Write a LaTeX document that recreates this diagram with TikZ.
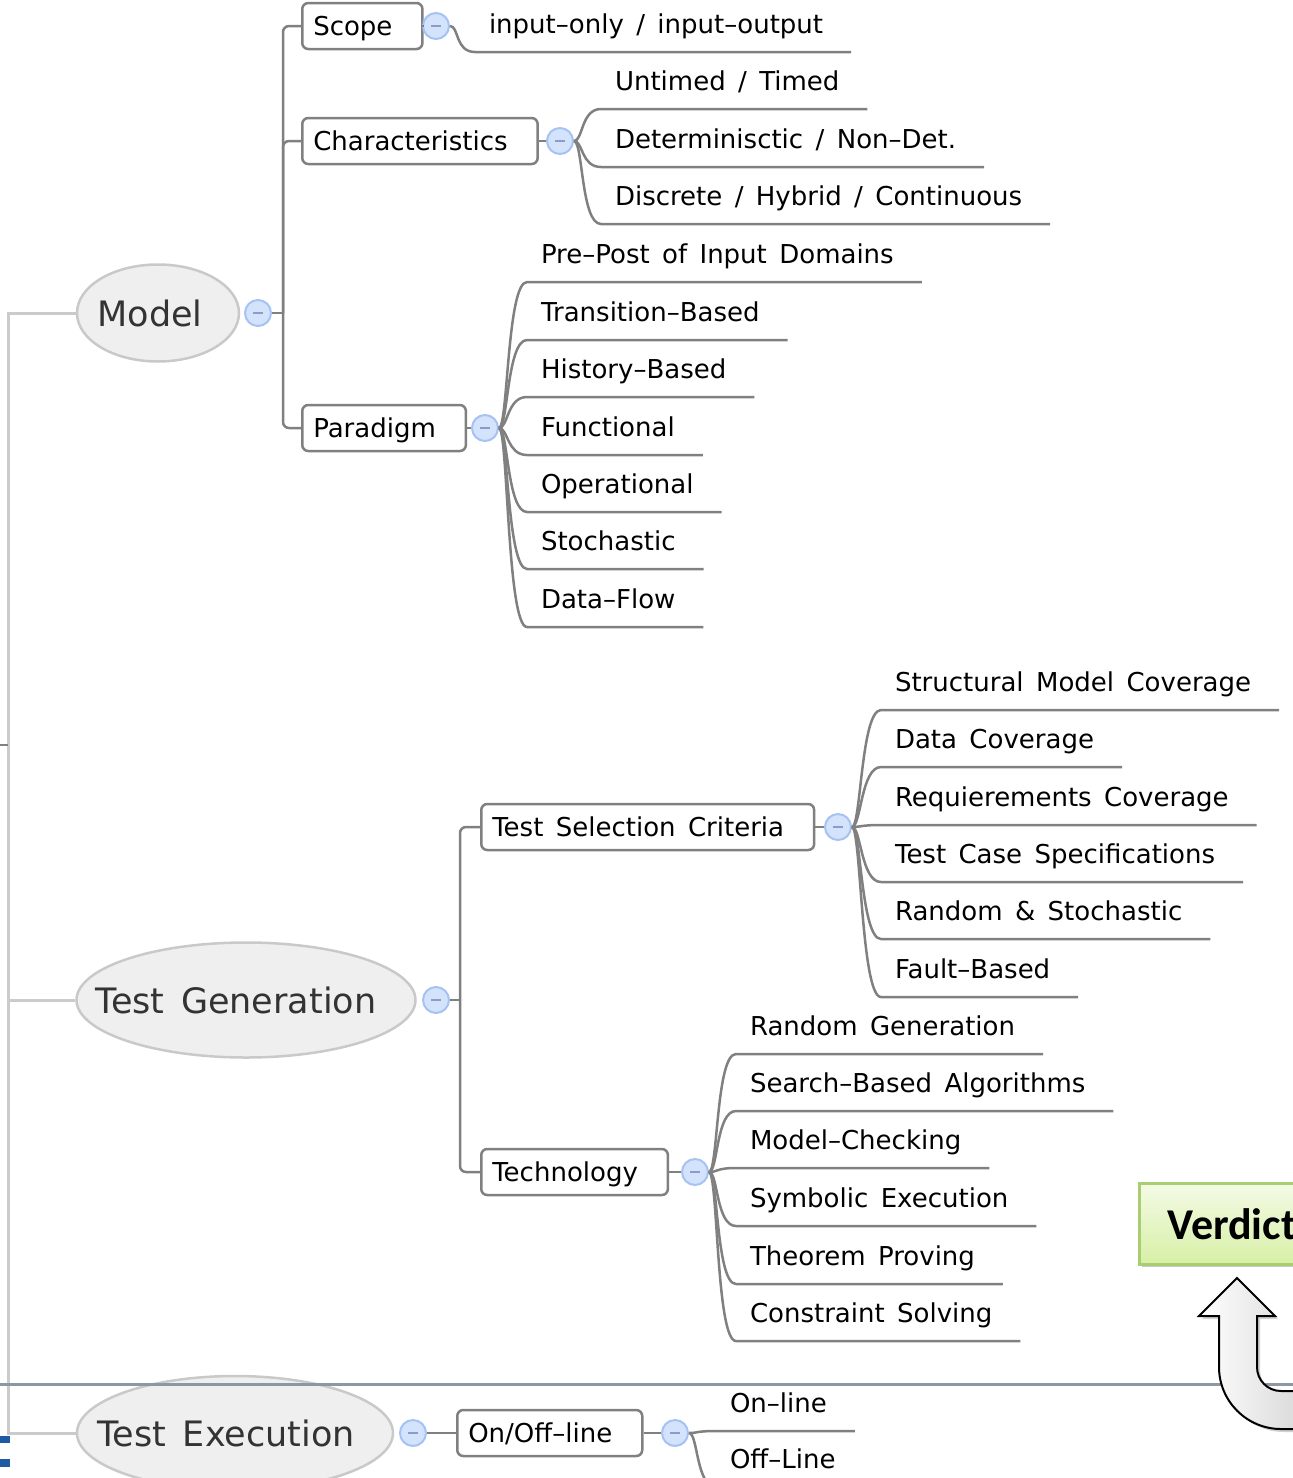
\documentclass[tikz,border=0pt]{standalone}
\usepackage{fontspec}
\setmainfont{DejaVu Sans}[WordSpace=1.5]
\newfontfamily\verdictfont{Carlito}
\usetikzlibrary{shapes.geometric,shadows}

\definecolor{linkgray}{HTML}{808080}
\definecolor{rootline}{HTML}{CBCBCB}
\definecolor{rootfill}{HTML}{EFEFEF}
\definecolor{rootedge}{HTML}{C9C9C9}
\definecolor{roottext}{HTML}{333333}
\definecolor{togglefill}{HTML}{D4E3FC}
\definecolor{toggleedge}{HTML}{A6C2F4}
\definecolor{togglemark}{HTML}{8C9BC9}
\definecolor{sepline}{HTML}{8D99A2}
\definecolor{verdtop}{HTML}{F4FBE6}
\definecolor{verdbot}{HTML}{D7EFA6}
\definecolor{verdedge}{HTML}{A8CE70}
\definecolor{markblue}{HTML}{1F5BA5}

% curved link from a toggle to a leaf, continued as the leaf's underline
\newcommand\leafedge[2]{\draw[conn, line join=round] (#1.east) .. controls +(9,0) and +(-20,0) .. (#2.south west) -- (#2.south east);}

\begin{document}
\begin{tikzpicture}[x=1pt,y=-1pt,
  rootshape/.style={ellipse, draw=rootedge, fill=rootfill, line width=2.5pt, inner sep=0pt},
  roottext/.style={text=roottext, font=\fontsize{35}{40}\selectfont, inner sep=0pt},
  topic/.style={draw=linkgray, line width=2.5pt, rounded corners=6pt, fill=white,
    inner xsep=0pt, inner ysep=0pt, minimum height=46pt, text height=20pt, text depth=1pt,
    font=\fontsize{26}{30}\selectfont, anchor=west,
    execute at begin node={\hspace*{11pt}}, execute at end node={\hspace*{30pt}}},
  leaf/.style={inner sep=0pt, outer sep=0pt, text height=20pt, text depth=19pt,
    font=\fontsize{26}{30}\selectfont, anchor=south west,
    execute at begin node={\hspace*{14pt}}, execute at end node={\hspace*{28pt}}},
  toggle/.style={circle, minimum size=26pt, inner sep=0pt, fill=togglefill, draw=toggleedge,
    line width=2pt, path picture={\draw[togglemark, line width=2.5pt]
      ([xshift=-5pt]path picture bounding box.center) -- ([xshift=5pt]path picture bounding box.center);}},
  conn/.style={draw=linkgray, line width=2.5pt},
  rootconn/.style={draw=rootline, line width=3pt},
  verdictbox/.style={draw=verdedge, line width=2.5pt, top color=verdtop, bottom color=verdbot,
    minimum height=81pt, text width=200pt, inner xsep=28pt, align=left,
    font=\verdictfont\bfseries\fontsize{44}{50}\selectfont,
    drop shadow={shadow xshift=3pt, shadow yshift=-3pt, opacity=0.35, fill=black!60}},
  uarrow/.style={draw=black, line width=2pt, left color=white, right color=black!16,
    drop shadow={shadow xshift=3pt, shadow yshift=-3pt, opacity=0.3, fill=black!60}}
]
\useasboundingbox (0,0) rectangle (1293,1478);
\clip (0,0) rectangle (1293,1478);

% ---------- root topics ----------
\node[rootshape, minimum width=162pt, minimum height=97pt] (model) at (158,313) {};
\node[roottext] (modeltext) at (150,313) {Model};
\node[rootshape, minimum width=339pt, minimum height=115pt] (tg) at (246,1000) {};
\node[roottext] (tgtext) at (236,1000) {Test Generation};
\node[rootshape, minimum width=316pt, minimum height=114pt] (te) at (235,1433) {};
\node[roottext] (tetext) at (226,1433) {Test Execution};

\node[toggle] (mt) at (258,313) {};
\node[toggle] (tgt) at (436,1000) {};
\node[toggle] (tet) at (413,1433) {};

% rail joining the root topics
\coordinate (railtop) at (8,313);
\coordinate (railin) at (8,745);
\draw[rootconn] (model.west) -- (railtop) |- (te.west);
\draw[rootconn] (railtop |- tg.west) -- (tg.west);
\draw[conn] (0,745) -- (railin);

% ---------- Model ----------
\node[topic] (scope) at (301,26) {Scope};
\node[topic] (charac) at (301,141) {Characteristics};
\node[topic] (paradigm) at (301,428) {Paradigm};
\draw[conn] (mt.east) -- ++(11,0);
\foreach \t in {scope,charac,paradigm}
  \draw[conn, rounded corners=6pt] ([xshift=11pt]mt.east) |- (\t.west);

\node[toggle] (st) at (436,26) {};
\node[toggle] (ct) at (560,141) {};
\node[toggle] (pt) at (485,428) {};
\draw[conn] (scope.east) -- (st.west);
\draw[conn] (charac.east) -- (ct.west);
\draw[conn] (paradigm.east) -- (pt.west);

\node[leaf] (io) at (475,52) {input–only / input–output};
\leafedge{st}{io}

\node[leaf] (timed) at (601,109) {Untimed / Timed};
\node[leaf] (det) at (601,167) {Determinisctic / Non–Det.};
\node[leaf] (disc) at (601,224) {Discrete / Hybrid / Continuous};
\foreach \l in {timed,det,disc} {\leafedge{ct}{\l}}

\node[leaf] (prepost) at (527,282) {Pre–Post of Input Domains};
\node[leaf] (trans) at (527,340) {Transition–Based};
\node[leaf] (hist) at (527,397) {History–Based};
\node[leaf] (func) at (527,455) {Functional};
\node[leaf] (oper) at (527,512) {Operational};
\node[leaf] (stoch) at (527,569) {Stochastic};
\node[leaf] (dflow) at (527,627) {Data–Flow};
\foreach \l in {prepost,trans,hist,func,oper,stoch,dflow} {\leafedge{pt}{\l}}

% ---------- Test Generation ----------
\node[topic] (tsc) at (480,827) {Test Selection Criteria};
\node[topic] (tech) at (480,1172) {Technology};
\draw[conn] (tgt.east) -- ++(10,0);
\foreach \t in {tsc,tech}
  \draw[conn, rounded corners=6pt] ([xshift=10pt]tgt.east) |- (\t.west);

\node[toggle] (tsct) at (838,827) {};
\node[toggle] (techt) at (695,1172) {};
\draw[conn] (tsc.east) -- (tsct.west);
\draw[conn] (tech.east) -- (techt.west);

\node[leaf] (smc) at (881,710) {Structural Model Coverage};
\node[leaf] (dcov) at (881,767) {Data Coverage};
\node[leaf] (rcov) at (881,825) {Requierements Coverage};
\node[leaf] (tcs) at (881,882) {Test Case Specifications};
\node[leaf] (rands) at (881,939) {Random \& Stochastic};
\node[leaf] (fault) at (881,997) {Fault–Based};
\foreach \l in {smc,dcov,rcov,tcs,rands,fault} {\leafedge{tsct}{\l}}

\node[leaf] (rgen) at (736,1054) {Random Generation};
\node[leaf] (sba) at (736,1111) {Search–Based Algorithms};
\node[leaf] (mc) at (736,1168) {Model–Checking};
\node[leaf] (symb) at (736,1226) {Symbolic Execution};
\node[leaf] (thm) at (736,1284) {Theorem Proving};
\node[leaf] (cons) at (736,1341) {Constraint Solving};
\foreach \l in {rgen,sba,mc,symb,thm,cons} {\leafedge{techt}{\l}}

% ---------- Test Execution ----------
\node[topic] (onoff) at (456,1433) {On/Off–line};
\draw[conn] (tet.east) -- (onoff.west);
\node[toggle] (oot) at (675,1433) {};
\draw[conn] (onoff.east) -- (oot.west);
\node[leaf] (online) at (716,1431) {On–line};
\node[leaf] (offline) at (716,1487) {Off–Line};
\foreach \l in {online,offline} {\leafedge{oot}{\l}}

% ---------- separator, verdict box and return arrow ----------
\draw[draw=sepline, line width=3pt] (0,1384) -- (1293,1384);

\node[verdictbox, anchor=north west] (verdict) at (1138,1182) {Verdict};

\path[uarrow] (1237,1278) -- (1275,1316) -- (1257,1316) -- (1257,1367)
  .. controls (1257,1380.3) and (1267.7,1391) .. (1281,1391) -- (1310,1391)
  -- (1310,1429) -- (1281,1429)
  .. controls (1246.8,1429) and (1219,1401.2) .. (1219,1367)
  -- (1219,1316) -- (1199,1316) -- cycle;

% page-edge marks
\fill[markblue] (0,1436) rectangle (10,1443);
\fill[markblue] (0,1459) rectangle (10,1467);
\end{tikzpicture}
\end{document}
